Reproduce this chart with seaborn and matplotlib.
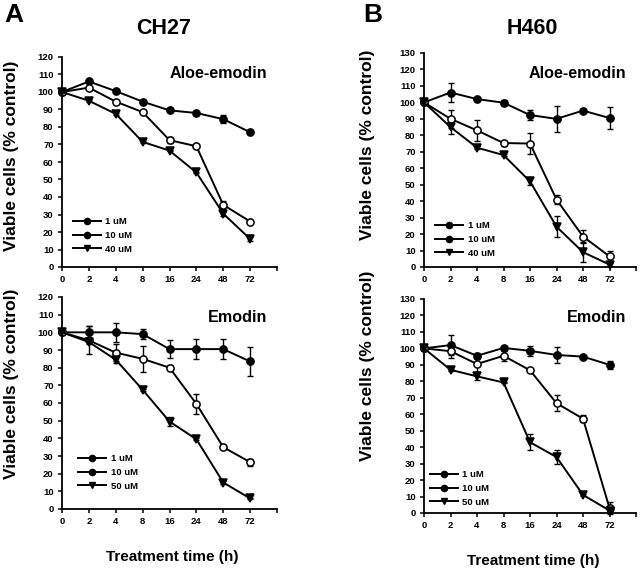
import numpy as np
import pandas as pd
import seaborn as sns
import matplotlib.pyplot as plt
from matplotlib.lines import Line2D

times = ["0", "2", "4", "8", "16", "24", "48", "72"]

# CH27 Aloe-emodin
ch27_ae_1 = [100, 106, 100.5, 94.5, 89.5, 88, 84.5, 77]
ch27_ae_10 = [100, 102.5, 94.5, 88.5, 72.5, 69, 35.5, 26]
ch27_ae_40 = [100, 95, 87.5, 71.5, 66.5, 54, 30.5, 16]
ch27_ae_1_err = [0, 0.5, 0.5, 0.5, 0.5, 0.5, 2.2, 1.2]
ch27_ae_10_err = [0, 0.5, 0.5, 0.5, 1.5, 0.5, 2.5, 0.5]
ch27_ae_40_err = [0, 0.5, 0.5, 0.5, 0.5, 0.5, 1.2, 1]

# CH27 Emodin
ch27_em_1 = [100, 100, 100, 99, 90.5, 90.5, 90.5, 83.5]
ch27_em_10 = [100, 95.5, 88.5, 85, 80, 59.5, 35, 26.5]
ch27_em_50 = [100, 94.5, 84.5, 67.5, 49.5, 39.5, 15, 6]
ch27_em_1_err = [0, 3.5, 5.5, 3, 5, 5.5, 5.5, 8]
ch27_em_10_err = [0, 8, 5, 7.5, 1.5, 5.5, 1, 2]
ch27_em_50_err = [0, 1, 2, 0.5, 2.5, 0.5, 1, 0.5]

# H460 Aloe-emodin
h460_ae_1 = [100, 106, 102, 99.8, 92.3, 90, 95, 90.5]
h460_ae_10 = [100, 90, 83, 75.3, 75, 41, 18.5, 6.5]
h460_ae_40 = [100, 85, 72.5, 68, 52, 24.5, 9, 1.5]
h460_ae_1_err = [0, 6, 0.5, 1.5, 3, 8, 0.5, 6.5]
h460_ae_10_err = [0, 5.5, 6.5, 1.5, 6.5, 3, 4, 3.5]
h460_ae_40_err = [0, 4, 1, 0.5, 2, 6.5, 6, 1]

# H460 Emodin
h460_em_1 = [100, 102, 95.5, 100.3, 98.5, 96, 95, 90]
h460_em_10 = [100, 98.3, 90.5, 95.5, 86.7, 66.7, 57.3, 3]
h460_em_50 = [100, 87, 83, 79.3, 43, 34, 11, 1.5]
h460_em_1_err = [0, 6, 2, 0.5, 3, 5, 0.5, 2.5]
h460_em_10_err = [0, 4, 5, 3, 0.5, 5, 2, 3.5]
h460_em_50_err = [0, 0.5, 2, 0.5, 5, 4, 0.5, 0.5]

pos = np.arange(len(times))

plt.rcParams["font.family"] = ["Liberation Sans", "DejaVu Sans"]
plt.rcParams["font.weight"] = "bold"

fig = plt.figure(figsize=(6.4, 5.68), dpi=100)

panels = [
    # rect, series, labels, ymax, subtitle, subtitle y, ylabel coords, legend anchor, bottom row
    ([62/640, 1 - 267/568, 215/640, 210/568],
     [(ch27_ae_1, ch27_ae_1_err), (ch27_ae_10, ch27_ae_10_err), (ch27_ae_40, ch27_ae_40_err)],
     ["1 uM", "10 uM", "40 uM"], 120, "Aloe-emodin", 0.92, (-0.2, 0.53), (0.033, 0.046), False),
    ([424/640, 1 - 267/568, 212/640, 214/568],
     [(h460_ae_1, h460_ae_1_err), (h460_ae_10, h460_ae_10_err), (h460_ae_40, h460_ae_40_err)],
     ["1 uM", "10 uM", "40 uM"], 130, "Aloe-emodin", 0.905, (-0.23, 0.57), (0.034, 0.026), False),
    ([62/640, 1 - 509/568, 215/640, 212/568],
     [(ch27_em_1, ch27_em_1_err), (ch27_em_10, ch27_em_10_err), (ch27_em_50, ch27_em_50_err)],
     ["1 uM", "10 uM", "50 uM"], 120, "Emodin", 0.905, (-0.2, 0.59), (0.057, 0.069), True),
    ([424/640, 1 - 513/568, 212/640, 214/568],
     [(h460_em_1, h460_em_1_err), (h460_em_10, h460_em_10_err), (h460_em_50, h460_em_50_err)],
     ["1 uM", "10 uM", "50 uM"], 130, "Emodin", 0.915, (-0.23, 0.69), (0.01, 0.012), True),
]

markers = ["o", "o", "v"]
faces = ["black", "white", "black"]

for rect, series, labels, ymax, sub, sub_y, ylab_xy, leg_xy, bottom in panels:
    ax = fig.add_axes(rect)
    for (vals, errs), lab, mk, fc in zip(series, labels, markers, faces):
        df = pd.DataFrame({"pos": pos, "value": vals})
        sns.lineplot(data=df, x="pos", y="value", ax=ax, color="black",
                     linewidth=1.4, marker=mk, markersize=5.2, markerfacecolor=fc,
                     markeredgecolor="black", markeredgewidth=1.1, clip_on=False, zorder=3)
        ax.errorbar(pos, vals, yerr=errs, fmt="none", ecolor="black",
                    elinewidth=1.0, capsize=2, capthick=1.0, clip_on=False, zorder=2)
    ax.set_xlim(0, 8)
    ax.set_ylim(0, ymax)
    ax.set_xticks(list(pos) + [8])
    ax.set_xticklabels(times + [""], fontsize=6.8, fontweight="bold")
    ax.set_yticks(np.arange(0, ymax + 1, 10))
    ax.set_yticklabels([str(v) for v in range(0, ymax + 1, 10)], fontsize=6.8, fontweight="bold")
    ax.tick_params(direction="out", length=3, width=1.1, pad=3)
    for s in ["top", "right"]:
        ax.spines[s].set_visible(False)
    for s in ["left", "bottom"]:
        ax.spines[s].set_linewidth(1.3)
    ax.set_ylabel("Viable cells (% control)", fontsize=12.5, fontweight="bold")
    ax.yaxis.set_label_coords(*ylab_xy)
    ax.set_xlabel("")
    ax.text(0.955, sub_y, sub, transform=ax.transAxes,
            ha="right", va="center", fontsize=11.6, fontweight="bold")
    handles = [Line2D([0], [0], color="black", linewidth=1.4, marker=mk, markersize=4.5,
                      markerfacecolor="black", markeredgecolor="black") for mk in markers]
    ax.legend(handles, labels, loc="lower left", bbox_to_anchor=leg_xy, frameon=False,
              prop={"size": 6.8, "weight": "bold"}, handlelength=3.0, handletextpad=0.45,
              labelspacing=0.5, borderaxespad=0)
    if bottom:
        ax.text(0.5 + 3 / rect[2] / 640, -0.225, "Treatment time (h)", transform=ax.transAxes,
                ha="center", va="center", fontsize=11, fontweight="bold")

fig.text(4/640, 1 - 3/568, "A", ha="left", va="top", fontsize=19, fontweight="heavy")
fig.text(363/640, 1 - 3/568, "B", ha="left", va="top", fontsize=19, fontweight="heavy")
fig.text(164/640, 1 - 28/568, "CH27", ha="center", va="center", fontsize=15.5, fontweight="bold")
fig.text(532/640, 1 - 28/568, "H460", ha="center", va="center", fontsize=15.5, fontweight="bold")

fig.savefig("out.png", dpi=100)
